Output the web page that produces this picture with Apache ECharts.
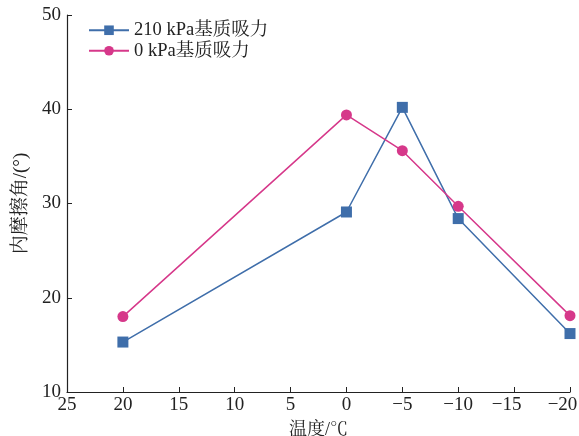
<!DOCTYPE html>
<html><head><meta charset="utf-8">
<script src="https://cdn.jsdelivr.net/npm/echarts@6/dist/echarts.min.js"></script>
<style>html,body{margin:0;padding:0;background:#fff}#c{width:579px;height:436px}</style>
</head><body><div id="c"></div>
<script>
const temps = [20, 0, -5, -10, -20];
const suction210 = [15.3, 29.1, 40.2, 28.4, 16.2];
const suction0 = [18.0, 39.4, 35.6, 29.7, 18.1];
const seriesNames = ['210 kPa基质吸力', '0 kPa基质吸力'];
const font = '"Liberation Serif", "Noto Serif CJK SC", "Noto Sans CJK SC", serif';
const chart = echarts.init(document.getElementById('c'));
chart.setOption({
  animation: false,
  grid: {left: 67, right: 9, top: 15, bottom: 44, containLabel: false, outerBoundsMode: 'none'},
  legend: {
    left: 83, top: 16, orient: 'vertical', itemGap: 2, itemWidth: 40, itemHeight: 12,
    textStyle: {fontFamily: font, fontSize: 18.5, color: '#222'},
    data: seriesNames
  },
  xAxis: {
    type: 'value', min: -20, max: 25, interval: 5, inverse: true,
    name: '温度/℃', nameLocation: 'middle', nameGap: 29,
    nameTextStyle: {fontFamily: font, fontSize: 18, color: '#222'},
    axisLine: {onZero: false, lineStyle: {color: '#222', width: 1.2}},
    axisTick: {inside: true, length: 5, lineStyle: {color: '#222'}},
    axisLabel: {fontFamily: font, fontSize: 19, color: '#222', margin: 4,
      formatter: v => {
        const s = String(v).replace('-', '\u2212');
        return v <= -15 ? '{s|' + s + '}' : s;
      },
      rich: {s: {fontFamily: font, fontSize: 19, color: '#222', padding: [0, 15, 0, 0]}}
    },
    splitLine: {show: false}
  },
  yAxis: {
    type: 'value', min: 10, max: 50, interval: 10, position: 'left',
    name: '内摩擦角/(°)', nameLocation: 'middle', nameGap: 36, nameRotate: 90,
    nameTextStyle: {fontFamily: font, fontSize: 19, color: '#222'},
    axisLine: {show: true, onZero: false, lineStyle: {color: '#222', width: 1.2}},
    axisTick: {show: true, inside: true, length: 5, lineStyle: {color: '#222'}},
    axisLabel: {fontFamily: font, fontSize: 19, color: '#222', margin: 6},
    splitLine: {show: false}
  },
  series: [
    {name: seriesNames[0], type: 'line', data: temps.map((t, i) => [t, suction210[i]]),
     symbol: 'rect', symbolSize: 11, itemStyle: {color: '#3F6EAA'},
     lineStyle: {color: '#3F6EAA', width: 1.5}},
    {name: seriesNames[1], type: 'line', data: temps.map((t, i) => [t, suction0[i]]),
     symbol: 'circle', symbolSize: 11, itemStyle: {color: '#D6388A'},
     lineStyle: {color: '#D6388A', width: 1.5}}
  ]
});
</script></body></html>
